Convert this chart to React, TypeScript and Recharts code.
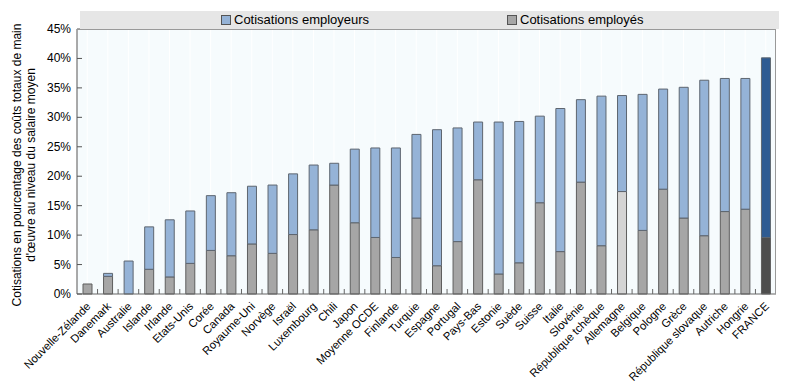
import React from "react";
import { BarChart, Bar, XAxis, YAxis, CartesianGrid, Cell, Legend } from "recharts";

const pays = [
  "Nouvelle-Zélande", "Danemark", "Australie", "Islande", "Irlande", "Etats-Unis",
  "Corée", "Canada", "Royaume-Uni", "Norvège", "Israël", "Luxembourg", "Chili",
  "Japon", "Moyenne OCDE", "Finlande", "Turquie", "Espagne", "Portugal", "Pays-Bas",
  "Estonie", "Suède", "Suisse", "Italie", "Slovénie", "République tchèque",
  "Allemagne", "Belgique", "Pologne", "Grèce", "République slovaque", "Autriche",
  "Hongrie", "FRANCE",
];

// % des coûts totaux de main d'œuvre
const employes = [
  1.7, 3.0, 0, 4.2, 2.9, 5.2, 7.4, 6.5, 8.5, 6.9, 10.1, 10.9, 18.5, 12.1, 9.6, 6.2,
  12.9, 4.8, 8.9, 19.4, 3.4, 5.3, 15.5, 7.2, 19.0, 8.2, 17.4, 10.8, 17.8, 12.9, 9.9,
  14.0, 14.4, 9.6,
];
const employeurs = [
  0, 0.5, 5.6, 7.2, 9.7, 8.9, 9.3, 10.7, 9.8, 11.6, 10.3, 11.0, 3.7, 12.5, 15.2, 18.6,
  14.2, 23.1, 19.3, 9.8, 25.8, 24.0, 14.7, 24.3, 14.0, 25.4, 16.3, 23.1, 17.0, 22.2,
  26.4, 22.6, 22.2, 30.5,
];
const yTicks = [0, 5, 10, 15, 20, 25, 30, 35, 40, 45];

const data = pays.map((p, i) => ({ pays: p, employes: employes[i], employeurs: employeurs[i] }));

const FONT = "'Liberation Sans', Arial, sans-serif";
const BLUE = "#95b3d7";
const GRAY = "#a6a6a6";

const grayFill = (p: string) => (p === "FRANCE" ? "#4d4d4d" : p === "Allemagne" ? "#d4d4d4" : GRAY);
const blueFill = (p: string) => (p === "FRANCE" ? "#2e5b92" : BLUE);

const YTick = (props: any) => {
  const { x, y, payload } = props;
  return (
    <g>
      <line x1={x + 6} x2={x + 11} y1={y} y2={y} stroke="#555" />
      <text x={x} y={y + 4} textAnchor="end" fontSize={12} fill="#000" fontFamily={FONT}>
        {payload.value}%
      </text>
    </g>
  );
};

const XTick = (props: any) => {
  const { x, y, payload, index } = props;
  const step = 699 / pays.length;
  const tx = x + 4;
  const ty = y + 9;
  return (
    <g>
      {index > 0 && (
        <line x1={x - step / 2} x2={x - step / 2} y1={y - 4} y2={y - 9} stroke="#666" />
      )}
      <text
        x={tx}
        y={ty}
        textAnchor="end"
        fontSize={11.3}
        fill="#000"
        fontFamily={FONT}
        transform={`rotate(-45 ${tx} ${ty})`}
      >
        {payload.value}
      </text>
    </g>
  );
};

const LegendBox = () => (
  <div
    style={{
      height: 18,
      background: "#e6e6e6",
      fontFamily: FONT,
      fontSize: 13,
      position: "relative",
    }}
  >
    {[
      { label: "Cotisations employeurs", color: BLUE, left: 141 },
      { label: "Cotisations employés", color: GRAY, left: 427 },
    ].map((it) => (
      <div
        key={it.label}
        style={{ position: "absolute", left: it.left, top: 1, display: "flex", alignItems: "center" }}
      >
        <span
          style={{
            width: 8,
            height: 8,
            background: it.color,
            border: "1px solid #555",
            marginRight: 3,
            display: "inline-block",
          }}
        />
        <span>{it.label}</span>
      </div>
    ))}
  </div>
);

const YLabel = () => {
  const cy = 165;
  return (
    <g fontFamily={FONT} fontSize={12} fill="#000">
      <text x={21} y={cy} textAnchor="middle" transform={`rotate(-90 21 ${cy})`}>
        Cotisations en pourcentage  des coûts totaux de main
      </text>
      <text x={35} y={cy} textAnchor="middle" transform={`rotate(-90 35 ${cy})`}>
        d'œuvre au niveau du salaire moyen
      </text>
    </g>
  );
};

export default function App() {
  return (
    <div style={{ position: "absolute", left: 0, top: 0, width: 785, height: 383, background: "#fff" }}>
      <BarChart
        width={785}
        height={383}
        data={data}
        margin={{ top: 11, right: 9, bottom: 0, left: 0 }}
        barCategoryGap={0}
      >
        <CartesianGrid fill="#f6fbfd" stroke="#ffffff" horizontal={false} vertical={true} />
        <Legend
          verticalAlign="top"
          height={18}
          content={<LegendBox />}
          wrapperStyle={{ top: 11, left: 80, width: 699 }}
        />
        <XAxis
          dataKey="pays"
          interval={0}
          height={89}
          tickSize={0}
          tickMargin={4}
          tick={<XTick />}
          axisLine={{ stroke: "#666" }}
        />
        <YAxis
          width={77}
          domain={[0, 45]}
          ticks={yTicks}
          interval={0}
          tickSize={0}
          tickMargin={6}
          tick={<YTick />}
          axisLine={{ stroke: "#555" }}
          label={<YLabel />}
        />
        <Bar dataKey="employes" stackId="a" barSize={9} stroke="#5e5e5e" isAnimationActive={false}>
          {data.map((d, i) => (
            <Cell key={i} fill={grayFill(d.pays)} />
          ))}
        </Bar>
        <Bar dataKey="employeurs" stackId="a" barSize={9} stroke="#5e6670" isAnimationActive={false}>
          {data.map((d, i) => (
            <Cell key={i} fill={blueFill(d.pays)} />
          ))}
        </Bar>
      </BarChart>
      {/* bordure haut / droite de la zone de tracé */}
      <div
        style={{
          position: "absolute",
          left: 77,
          top: 29,
          width: 699,
          height: 265,
          borderTop: "1px solid #999",
          borderRight: "1px solid #999",
          boxSizing: "border-box",
          pointerEvents: "none",
        }}
      />
    </div>
  );
}
